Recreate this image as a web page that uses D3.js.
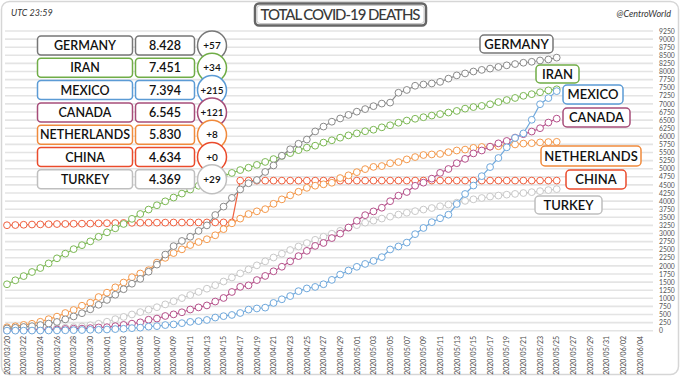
<!DOCTYPE html>
<html>
<head>
<meta charset="utf-8">
<script src="https://cdn.jsdelivr.net/npm/d3@7"></script>
<style>
  body { margin: 0; background: #fff; }
  svg { display: block; font-family: Lato, "Open Sans", sans-serif; }
</style>
</head>
<body>
<div id="chart"></div>
<script>

// countries, in the order of the table
var countries = ["GERMANY", "IRAN", "MEXICO", "CANADA", "NETHERLANDS", "CHINA", "TURKEY"];
var totals    = ["8.428", "7.451", "7.394", "6.545", "5.830", "4.634", "4.369"];
var newDeaths = ["+57", "+34", "+215", "+121", "+8", "+0", "+29"];
var colors    = ["#8a8a8a", "#7cb854", "#6fa8dc", "#b5508a", "#f4994c", "#f0603f", "#c9c9c9"];
var boxColors = ["#777777", "#70ad47", "#5b9bd5", "#a64d79", "#f08a3c", "#ea4b2c", "#bfbfbf"];

// daily totals from 2020/03/20 to 2020/05/25
var germany = [70,90,115,140,175,220,270,350,440,540, 660,800,950,1110,1280,1450,1600,1820,2040,2350,
  2610,2770,2900,3080,3250,3570,3830,4100,4360,4550, 4650,4900,5100,5400,5600,5770,5900,6150,6300,6450,
  6550,6660,6760,6840,6930,7010,7040,7345,7430,7560, 7600,7630,7680,7780,7880,7940,8000,8050,8090,8140,
  8190,8230,8270,8300,8340,8371,8428];
var iran = [1433,1556,1685,1812,1934,2077,2234,2378,2517,2640, 2757,2898,3036,3160,3294,3452,3603,3739,3872,3993,
  4110,4232,4357,4474,4585,4683,4777,4869,4958,5031, 5118,5209,5297,5391,5481,5574,5650,5710,5806,5877,
  5957,6028,6091,6156,6203,6277,6340,6418,6486,6541, 6589,6640,6685,6733,6783,6854,6902,6937,6988,7057,
  7119,7183,7249,7300,7359,7417,7451];
var mexico = [1,2,2,4,5,6,8,12,16,20, 28,29,37,50,60,79,94,125,141,174,
  194,233,273,296,332,406,449,486,546,650, 686,712,857,970,1069,1221,1305,1351,1434,1569,
  1732,1859,1972,2061,2154,2271,2507,2600,2720,2980, 3170,3350,3470,3580,3910,4220,4480,4770,5050,5330,
  5660,5950,6090,6510,6990,7179,7394];
var canada = [12,20,21,25,26,30,38,54,61,64, 80,101,109,139,179,218,259,339,375,454,
  504,569,654,719,780,900,1010,1195,1354,1399, 1563,1690,1834,1974,2141,2302,2465,2617,2707,2859,
  2996,3184,3391,3566,3682,3795,3997,4167,4280,4472, 4569,4693,4871,4991,5169,5304,5472,5562,5679,5782,
  5857,5960,6066,6146,6250,6424,6545];
var netherlands = [106,136,179,213,276,356,434,546,639,771, 864,1039,1173,1339,1487,1651,1766,1867,2101,2248,
  2396,2511,2643,2737,2823,2945,3134,3315,3459,3601, 3684,3751,3916,4054,4177,4289,4409,4475,4518,4566,
  4711,4795,4893,4987,5056,5082,5168,5204,5288,5359, 5422,5440,5456,5510,5562,5590,5643,5670,5680,5694,
  5715,5748,5775,5788,5811,5822,5830];
var china = [3255,3261,3270,3277,3281,3287,3292,3295,3300,3304, 3305,3312,3318,3322,3326,3329,3331,3333,3335,3336,
  3339,3339,3340,3341,3341,3342,3342,3342,4632,4632, 4632,4632,4632,4632,4632,4632,4632,4632,4632,4632,
  4632,4633,4633,4633,4633,4634,4634,4634,4634,4634, 4634,4634,4634,4634,4634,4634,4634,4634,4634,4634,
  4634,4634,4634,4634,4634,4634,4634];
var turkey = [9,21,30,37,44,59,75,92,108,131, 168,214,277,356,425,501,574,649,725,812,
  908,1006,1101,1198,1296,1403,1518,1643,1769,1890, 2017,2140,2259,2376,2491,2600,2706,2805,2900,2992,
  3081,3174,3258,3336,3397,3461,3520,3584,3641,3689, 3739,3786,3841,3894,3952,4007,4055,4096,4140,4171,
  4199,4222,4249,4276,4308,4340,4369];

var seriesValues = [germany, iran, mexico, canada, netherlands, china, turkey];

// x tick labels (every two days) and y ticks
var dateTicks = ["2020/03/20","2020/03/22","2020/03/24","2020/03/26","2020/03/28","2020/03/30",
  "2020/04/01","2020/04/03","2020/04/05","2020/04/07","2020/04/09","2020/04/11","2020/04/13",
  "2020/04/15","2020/04/17","2020/04/19","2020/04/21","2020/04/23","2020/04/25","2020/04/27",
  "2020/04/29","2020/05/01","2020/05/03","2020/05/05","2020/05/07","2020/05/09","2020/05/11",
  "2020/05/13","2020/05/15","2020/05/17","2020/05/19","2020/05/21","2020/05/23","2020/05/25",
  "2020/05/27","2020/05/29","2020/05/31","2020/06/02","2020/06/04"];
var yTicks = d3.range(0, 9251, 250);

var width = 680, height = 376;
var parse = d3.utcParse("%Y/%m/%d");
var startDay = parse("2020/03/20");
var days = d3.utcDay.range(startDay, d3.utcDay.offset(startDay, germany.length));

var x = d3.scaleUtc()
    .domain([parse(dateTicks[0]), parse(dateTicks[dateTicks.length - 1])])
    .range([7, 640]);
var y = d3.scaleLinear()
    .domain([0, 9250])
    .range([330.7, 31]);

var svg = d3.select("#chart").append("svg")
    .attr("width", width)
    .attr("height", height);

// outer frame
svg.append("rect")
    .attr("x", 1.5).attr("y", 1.5)
    .attr("width", width - 3).attr("height", height - 3)
    .attr("rx", 8)
    .attr("fill", "#fff")
    .attr("stroke", "#d6d6d6")
    .attr("stroke-width", 1.5);

// grid lines
svg.append("g")
    .selectAll("line")
    .data(yTicks)
    .enter().append("line")
    .attr("x1", 5).attr("x2", 653)
    .attr("y1", function(d) { return y(d); })
    .attr("y2", function(d) { return y(d); })
    .attr("stroke", "#e4e4e4")
    .attr("stroke-width", 1.6);

// y axis on the right
var yAxis = d3.axisRight(y)
    .tickValues(yTicks)
    .tickFormat(d3.format("d"))
    .tickSize(0)
    .tickPadding(0);
var gy = svg.append("g")
    .attr("transform", "translate(659,0)")
    .call(yAxis);
gy.select(".domain").remove();
gy.selectAll("text")
    .attr("font-family", "Lato, sans-serif")
    .attr("font-size", 6.8)
    .attr("fill", "#555");

// x axis labels, rotated
var xAxis = d3.axisBottom(x)
    .tickValues(dateTicks.map(parse))
    .tickFormat(d3.utcFormat("%Y/%m/%d"))
    .tickSize(0);
var gx = svg.append("g")
    .attr("transform", "translate(0,336)")
    .call(xAxis);
gx.select(".domain").remove();
gx.selectAll("text")
    .attr("font-family", "Lato, sans-serif")
    .attr("font-size", 7)
    .attr("fill", "#4a4a4a")
    .attr("text-anchor", "end")
    .attr("transform", "rotate(-90)")
    .attr("x", 0)
    .attr("y", 0)
    .attr("dx", 0)
    .attr("dy", "0.32em");

// lines with hollow circle markers
var line = d3.line()
    .x(function(d, i) { return x(days[i]); })
    .y(function(d) { return y(d); });

var drawOrder = [6, 5, 4, 3, 1, 0, 2];
drawOrder.forEach(function(k) {
  var g = svg.append("g");
  g.append("path")
      .datum(seriesValues[k])
      .attr("fill", "none")
      .attr("stroke", colors[k])
      .attr("stroke-width", 1.2)
      .attr("d", line);
  g.selectAll("circle")
      .data(seriesValues[k])
      .enter().append("circle")
      .attr("cx", function(d, i) { return x(days[i]); })
      .attr("cy", function(d) { return y(d); })
      .attr("r", 3.4)
      .attr("fill", "#fff")
      .attr("stroke", colors[k])
      .attr("stroke-width", 1);
});

// table on the left
var rowTop = 36, rowStep = 22.3, rowH = 19;
var table = svg.append("g");
var rows = table.selectAll("g")
    .data(countries)
    .enter().append("g")
    .attr("transform", function(d, i) { return "translate(0," + (rowTop + i * rowStep) + ")"; });

rows.append("rect")
    .attr("x", 37.5).attr("y", 0)
    .attr("width", 95).attr("height", rowH)
    .attr("rx", 3.5)
    .attr("fill", "#fff")
    .attr("stroke", function(d, i) { return boxColors[i]; })
    .attr("stroke-width", 1.5);
rows.append("text")
    .attr("x", 85).attr("y", rowH / 2)
    .attr("dy", "0.36em")
    .attr("text-anchor", "middle")
    .attr("font-size", 12.5)
    .attr("font-weight", 600)
    .attr("fill", "#111")
    .text(function(d) { return d; });

rows.append("rect")
    .attr("x", 135.5).attr("y", 0)
    .attr("width", 59).attr("height", rowH)
    .attr("rx", 3.5)
    .attr("fill", "#fff")
    .attr("stroke", function(d, i) { return boxColors[i]; })
    .attr("stroke-width", 1.5);
rows.append("text")
    .attr("x", 165).attr("y", rowH / 2)
    .attr("dy", "0.36em")
    .attr("text-anchor", "middle")
    .attr("font-size", 12.5)
    .attr("font-weight", 600)
    .attr("fill", "#111")
    .text(function(d, i) { return totals[i]; });

rows.append("circle")
    .attr("cx", 212).attr("cy", rowH / 2)
    .attr("r", 14.5)
    .attr("fill", "#fff")
    .attr("stroke", function(d, i) { return boxColors[i]; })
    .attr("stroke-width", 1.5);
rows.append("text")
    .attr("x", 212).attr("y", rowH / 2)
    .attr("dy", "0.36em")
    .attr("text-anchor", "middle")
    .attr("font-size", 10)
    .attr("font-weight", 600)
    .attr("fill", "#111")
    .text(function(d, i) { return newDeaths[i]; });

// name tags at the end of the lines
var tagBoxes = [[480, 35, 73, 18], [536, 65, 43, 18], [563, 85, 60, 19], [563, 108, 67, 19],
                [541, 146, 100, 20], [566, 170, 60, 19], [535, 196, 67, 18]];
var tags = svg.append("g").selectAll("g")
    .data(countries)
    .enter().append("g")
    .attr("transform", function(d, i) { return "translate(" + tagBoxes[i][0] + "," + tagBoxes[i][1] + ")"; });
tags.append("rect")
    .attr("width", function(d, i) { return tagBoxes[i][2]; })
    .attr("height", function(d, i) { return tagBoxes[i][3]; })
    .attr("rx", 4)
    .attr("fill", "#fff")
    .attr("stroke", function(d, i) { return boxColors[i]; })
    .attr("stroke-width", 1.5);
tags.append("text")
    .attr("x", function(d, i) { return tagBoxes[i][2] / 2; })
    .attr("y", function(d, i) { return tagBoxes[i][3] / 2; })
    .attr("dy", "0.36em")
    .attr("text-anchor", "middle")
    .attr("font-size", 13)
    .attr("font-weight", 600)
    .attr("fill", "#111")
    .text(function(d) { return d; });

// title
svg.append("rect")
    .attr("x", 255).attr("y", 3.5)
    .attr("width", 171).attr("height", 22)
    .attr("rx", 4)
    .attr("fill", "#fff")
    .attr("stroke", "#666")
    .attr("stroke-width", 2.5);
svg.append("rect")
    .attr("x", 257).attr("y", 5.5)
    .attr("width", 167).attr("height", 18)
    .attr("rx", 3)
    .attr("fill", "none")
    .attr("stroke", "#c8c8c8")
    .attr("stroke-width", 1);
svg.append("text")
    .attr("x", 340.5).attr("y", 14.5)
    .attr("dy", "0.36em")
    .attr("text-anchor", "middle")
    .attr("font-size", 15)
    .attr("font-weight", 500)
    .attr("fill", "#3a3a3a")
    .attr("textLength", 160)
    .text("TOTAL COVID-19 DEATHS");

svg.append("text")
    .attr("x", 11).attr("y", 16)
    .attr("font-size", 9)
    .attr("font-style", "italic")
    .attr("fill", "#333")
    .text("UTC 23:59");

svg.append("text")
    .attr("x", 671).attr("y", 17)
    .attr("text-anchor", "end")
    .attr("font-size", 9)
    .attr("font-style", "italic")
    .attr("fill", "#333")
    .text("@CentroWorld");

</script>
</body>
</html>
